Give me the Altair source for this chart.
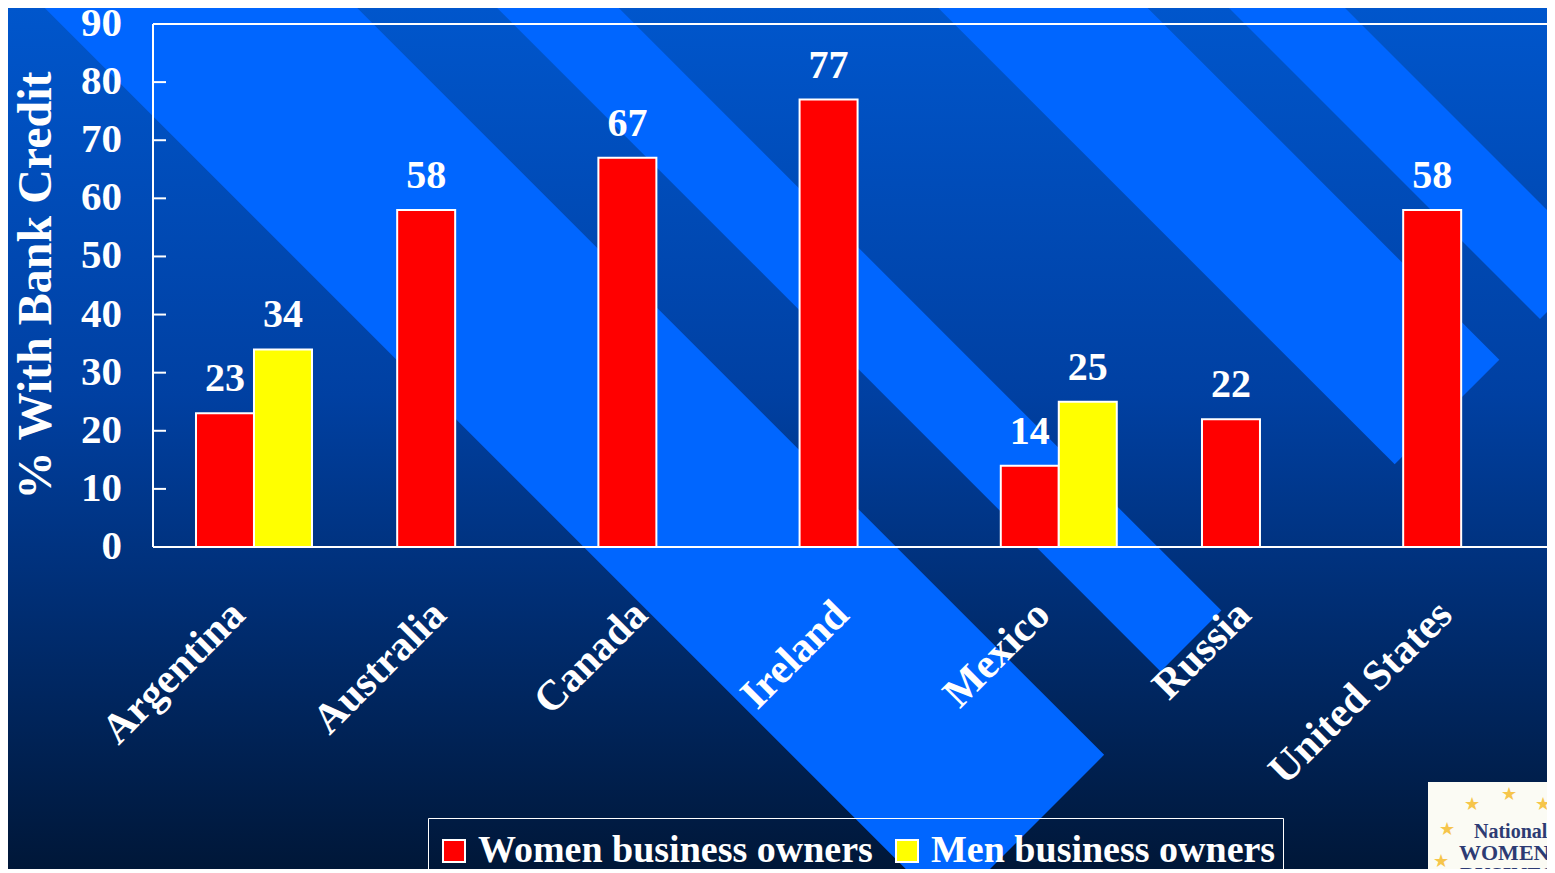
import altair as alt
import pandas as pd

# ---------------- data ----------------
countries = ["Argentina", "Australia", "Canada", "Ireland", "Mexico", "Russia", "United States"]
women = [23, 58, 67, 77, 14, 22, 58]
men = [34, None, None, None, 25, None, None]
series_names = ["Women business owners", "Men business owners"]
series_colors = ["#ff0000", "#ffff00"]
y_ticks = [0, 10, 20, 30, 40, 50, 60, 70, 80, 90]
y_title = "% With Bank Credit"

rows = []
for c, w, m in zip(countries, women, men):
    rows.append({"country": c, "series": series_names[0], "value": w})
    if m is not None:
        rows.append({"country": c, "series": series_names[1], "value": m})
df = pd.DataFrame(rows)
cat_df = pd.DataFrame({"country": countries})
tick_df = pd.DataFrame({"value": y_ticks})

# ---------------- layout / style ----------------
W, H = 1394, 523
PAD = {"left": 145, "top": 16, "right": 0, "bottom": 322}
FONT = "Liberation Serif"
STRIPE = "#0066ff"
OX, OY = 153, 24  # plot origin on the page

# decorative slide stripes: (start_x, start_y, end_x, end_y, width) in page pixels
stripes = [
    (-107, -300, 1026, 833, 221),
    (250, -300, 1191, 641, 86),
    (735, -300, 1447, 412, 148),
    (979, -300, 1569, 290, 82),
]

one = pd.DataFrame({"k": [0]})

bg = alt.Chart(one).mark_rect(
    color=alt.LinearGradient(
        gradient="linear", x1=0, x2=0, y1=0, y2=1,
        stops=[
            alt.GradientStop(color="#0056cc", offset=0),
            alt.GradientStop(color="#0040a2", offset=0.45),
            alt.GradientStop(color="#00317c", offset=0.65),
            alt.GradientStop(color="#001738", offset=1),
        ],
    )
).encode(
    x=alt.value(-PAD["left"]), x2=alt.value(W),
    y=alt.value(-PAD["top"]), y2=alt.value(H + PAD["bottom"]),
)

stripe_layers = [
    alt.Chart(one).mark_rule(color=STRIPE, strokeWidth=w, strokeCap="butt").encode(
        x=alt.value(sx - OX), y=alt.value(sy - OY),
        x2=alt.value(ex - OX), y2=alt.value(ey - OY),
    )
    for sx, sy, ex, ey, w in stripes
]

x_scale = alt.Scale(paddingInner=0.4235, paddingOuter=0.176, align=0.607)
y_scale = alt.Scale(domain=[0, 90], nice=False)
off_scale = alt.Scale(domain=series_names)

bars = alt.Chart(df).mark_bar(stroke="white", strokeWidth=2).encode(
    x=alt.X("country:N", sort=countries, scale=x_scale, axis=None),
    xOffset=alt.XOffset("series:N", scale=off_scale),
    y=alt.Y("value:Q", scale=y_scale, axis=None),
    color=alt.Color(
        "series:N",
        scale=alt.Scale(domain=series_names, range=series_colors),
        legend=alt.Legend(
            title=" ", titleFontSize=2, titlePadding=5,
            orient="none", legendX=428 - OX, legendY=818 - OY,
            direction="horizontal", symbolType="square", symbolSize=484,
            symbolStrokeColor="white", symbolStrokeWidth=2, symbolOpacity=1,
            labelFont=FONT, labelFontWeight="bold", labelFontSize=38,
            labelColor="white", labelOffset=5, labelLimit=600,
            columnPadding=15, padding=7, strokeColor="white",
        ),
    ),
)

labels = alt.Chart(df).mark_text(
    font=FONT, fontSize=40, fontWeight="bold", color="white",
    baseline="alphabetic", dy=-22,
).encode(
    x=alt.X("country:N", sort=countries, scale=x_scale, axis=None),
    xOffset=alt.XOffset("series:N", scale=off_scale),
    y=alt.Y("value:Q", scale=y_scale, axis=None),
    text=alt.Text("value:Q"),
)

# ---- hand-drawn axes (drawn above the gradient background) ----
inner_ticks = alt.Chart(tick_df).mark_rule(color="white", strokeWidth=2).encode(
    y=alt.Y("value:Q", scale=y_scale, axis=None), x=alt.value(0), x2=alt.value(13)
)
y_labels = alt.Chart(tick_df).mark_text(
    font=FONT, fontSize=41, fontWeight="bold", color="white",
    align="right", baseline="middle",
).encode(
    y=alt.Y("value:Q", scale=y_scale, axis=None), x=alt.value(-31),
    text=alt.Text("value:Q"),
)
y_title_mark = alt.Chart(one).mark_text(
    text=y_title, font=FONT, fontSize=48, fontWeight="bold", color="white",
    angle=270, align="center", baseline="middle",
).encode(x=alt.value(37 - OX), y=alt.value(H / 2))

x_labels = alt.Chart(cat_df).mark_text(
    font=FONT, fontSize=42, fontWeight="bold", color="white",
    angle=315, align="right", baseline="middle", dx=-11.3, dy=-11.3,
).encode(
    x=alt.X("country:N", sort=countries, scale=x_scale, axis=None),
    y=alt.value(H + 61),
    text="country:N",
)

left_line = alt.Chart(one).mark_rule(color="white", strokeWidth=2).encode(
    x=alt.value(0), y=alt.value(0), y2=alt.value(H)
)
bottom_line = alt.Chart(one).mark_rule(color="white", strokeWidth=2).encode(
    x=alt.value(0), x2=alt.value(W + 5), y=alt.value(H)
)
top_line = alt.Chart(one).mark_rule(color="white", strokeWidth=2).encode(
    x=alt.value(0), x2=alt.value(W + 5), y=alt.value(0)
)

# logo in the lower-right corner (decoration)
LX = -6
logo_box = alt.Chart(one).mark_rect(color="#fbfbf4").encode(
    x=alt.value(1434 + LX - OX), x2=alt.value(W + 5),
    y=alt.value(782 - OY), y2=alt.value(H + PAD["bottom"] + 5),
)
logo_texts = [
    ("National", 1480, 838, 20),
    ("WOMEN'", 1465, 860, 22),
    ("BUSINESS", 1466, 882, 22),
]
logo_text_layers = [
    alt.Chart(one).mark_text(
        text=t, font=FONT, fontWeight="bold", fontSize=fs, color="#2d3b73",
        align="left", baseline="alphabetic",
    ).encode(x=alt.value(tx + LX - OX), y=alt.value(ty - OY))
    for t, tx, ty, fs in logo_texts
]
star_pos = [(1478, 805), (1515, 795), (1549, 805), (1453, 830), (1447, 862)]
star_layers = [
    alt.Chart(one).mark_text(
        text="★", font="DejaVu Sans", fontSize=18, color="#f6c54a",
        align="center", baseline="middle",
    ).encode(x=alt.value(px + LX - OX), y=alt.value(py - OY))
    for px, py in star_pos
]

chart = alt.layer(
    bg, *stripe_layers, bars, labels, inner_ticks, left_line, bottom_line,
    top_line, y_labels, y_title_mark, x_labels, logo_box,
    *logo_text_layers, *star_layers,
).properties(
    width=W, height=H, padding=PAD,
    autosize=alt.AutoSizeParams(type="none"),
    background="#001a40",
).configure_view(
    stroke=None
)

chart.save("out.html", embed_options={"renderer": "svg", "actions": False})
